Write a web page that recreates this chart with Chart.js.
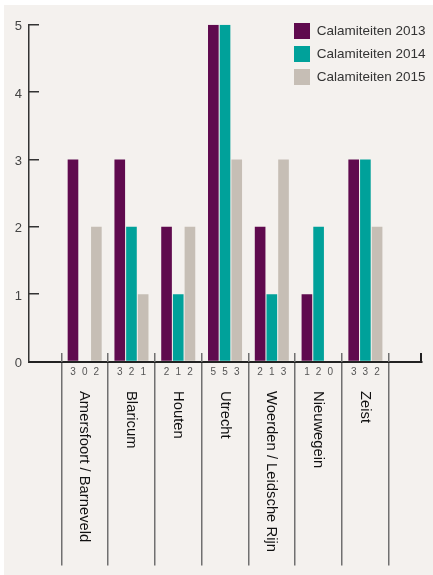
<!DOCTYPE html>
<html><head><meta charset="utf-8">
<script src="https://cdn.jsdelivr.net/npm/chart.js@4"></script>
<style>html,body{margin:0;padding:0;background:#fff;}canvas{display:block}</style>
</head><body><canvas id="c" width="433" height="575"></canvas>
<script>
const categories = ['Amersfoort / Barneveld','Blaricum','Houten','Utrecht','Woerden / Leidsche Rijn','Nieuwegein','Zeist'];
const seriesNames = ['Calamiteiten 2013','Calamiteiten 2014','Calamiteiten 2015'];
const values2013 = [3,3,2,5,2,1,3];
const values2014 = [0,2,1,5,1,2,3];
const values2015 = [2,1,2,3,3,0,2];
const yTicks = [0,1,2,3,4,5];
const seriesValues = [values2013, values2014, values2015];
const colors = ['#5f0a4e','#00a19a','#c6beb5'];

const FONT = "'Liberation Sans', Arial, sans-serif";
Chart.defaults.font.family = FONT;

function align(px, w){ return Math.round(px - w/2) + w/2; }

const decor = {
  id: 'decor',
  beforeDraw(chart){
    const ctx = chart.ctx;
    ctx.save();
    ctx.fillStyle = '#ffffff';
    ctx.fillRect(0,0,chart.width,chart.height);
    ctx.fillStyle = '#f4f1ee';
    ctx.fillRect(4,5,chart.width-4,chart.height-5);
    ctx.restore();
  },
  afterLayout(chart){
    const lg = chart.legend;
    if (!lg) return;
    const w = lg.width, h = lg.height;
    lg.left = 287; lg.top = 16;
    lg.right = lg.left + w; lg.bottom = 575;
  },
  afterDraw(chart){
    const ctx = chart.ctx;
    const xs = chart.scales.x;
    const area = chart.chartArea;
    ctx.save();
    // separator stubs above the axis
    ctx.strokeStyle = '#707070';
    ctx.lineWidth = 1.5;
    for (let i = 0; i <= categories.length; i++) {
      const x = align(xs.getPixelForValue(i - 0.5), 1.5);
      ctx.beginPath(); ctx.moveTo(x, 353); ctx.lineTo(x, 362); ctx.stroke();
    }
    // end tick of x axis
    ctx.strokeStyle = '#222';
    ctx.lineWidth = 2;
    const xr = align(area.right, 2) - 1;
    ctx.beginPath(); ctx.moveTo(xr, 353); ctx.lineTo(xr, 362); ctx.stroke();
    // values under bars
    ctx.fillStyle = '#555';
    ctx.font = '10px ' + FONT;
    ctx.textAlign = 'center';
    ctx.textBaseline = 'middle';
    seriesValues.forEach((vals, d) => {
      const meta = chart.getDatasetMeta(d);
      vals.forEach((v, i) => {
        ctx.fillText(String(v), meta.data[i].x, 372);
      });
    });
    // rotated category names
    ctx.fillStyle = '#111';
    ctx.font = '14.8px ' + FONT;
    ctx.textAlign = 'left';
    ctx.textBaseline = 'alphabetic';
    categories.forEach((c, i) => {
      const cx = xs.getPixelForValue(i);
      ctx.save();
      ctx.translate(cx - 4.5, 391);
      ctx.rotate(Math.PI / 2);
      ctx.fillText(c, 0, 0);
      ctx.restore();
    });
    ctx.restore();
  }
};

new Chart(document.getElementById('c'), {
  type: 'bar',
  data: {
    datasets: seriesNames.map((name, k) => ({
      label: name,
      data: categories.map((c, i) => ({x: i, y: seriesValues[k][i]})),
      backgroundColor: colors[k],
      borderWidth: 0,
      categoryPercentage: 0.75,
      barPercentage: 0.91
    }))
  },
  options: {
    responsive: false,
    animation: false,
    layout: { padding: { left: 0, top: 24, right: 11, bottom: 0 } },
    scales: {
      x: {
        type: 'linear',
        offset: false,
        min: -1.19,
        max: 7.21,
        afterBuildTicks: s => { s.ticks = categories.map((c, i) => ({value: i})); },
        afterFit: s => { s.height = 213.5; },
        grid: { offset: true, drawOnChartArea: false, drawTicks: true, tickLength: 204, color: '#707070', lineWidth: 1.5 },
        border: { display: true, color: '#222', width: 2 },
        ticks: { display: false }
      },
      y: {
        min: 0,
        max: 5,
        afterBuildTicks: s => { s.ticks = yTicks.map(v => ({value: v})); },
        afterFit: s => { s.width = 29; },
        grid: { drawOnChartArea: false, drawTicks: true, tickLength: -10, color: '#333', lineWidth: 1.5 },
        border: { display: true, color: '#333', width: 1.5 },
        ticks: { font: { size: 13 }, color: '#444', padding: 17, labelOffset: 2 }
      }
    },
    plugins: {
      legend: {
        position: 'chartArea',
        align: 'start',
        labels: { boxWidth: 16, boxHeight: 16, padding: 7, color: '#333', font: { size: 13.5 } }
      },
      tooltip: { enabled: false }
    }
  },
  plugins: [decor]
});
</script>
</body></html>
